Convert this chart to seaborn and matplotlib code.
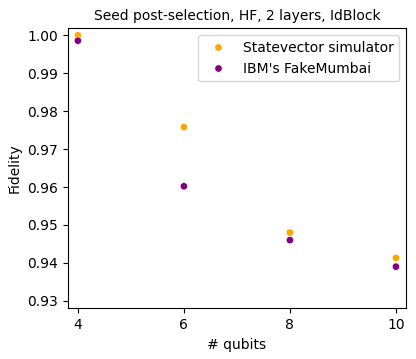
import matplotlib
matplotlib.use("Agg")
import matplotlib.pyplot as plt
import seaborn as sns
import pandas as pd

qubits = [4, 6, 8, 10]
statevector = [1.0000, 0.9758, 0.9480, 0.9413]
fake_mumbai = [0.9986, 0.9602, 0.9460, 0.9390]
labels = ["Statevector simulator", "IBM's FakeMumbai"]
colors = ["orange", "purple"]

df = pd.DataFrame({
    "qubits": qubits * 2,
    "fidelity": statevector + fake_mumbai,
    "series": [labels[0]] * 4 + [labels[1]] * 4,
})

fig = plt.figure(figsize=(4.16, 3.59), dpi=100)
ax = fig.add_axes([0.163, 0.141, 0.813, 0.780])
sns.scatterplot(data=df, x="qubits", y="fidelity", hue="series",
                palette=dict(zip(labels, colors)), s=28,
                edgecolor="white", linewidth=0.4, ax=ax)
ax.set_xlim(3.81, 10.19)
ax.set_ylim(0.928, 1.00185)
ax.set_xticks([4, 6, 8, 10])
ax.set_yticks([0.93, 0.94, 0.95, 0.96, 0.97, 0.98, 0.99, 1.00])
ax.set_yticklabels([f"{v:.2f}" for v in [0.93, 0.94, 0.95, 0.96, 0.97, 0.98, 0.99, 1.00]])
ax.set_xlabel("# qubits")
ax.set_ylabel("Fidelity")
ax.set_title("Seed post-selection, HF, 2 layers, IdBlock", fontsize=10)
ax.legend(title=None, loc="upper right", fontsize=10)
fig.savefig("out.png", dpi=100)
